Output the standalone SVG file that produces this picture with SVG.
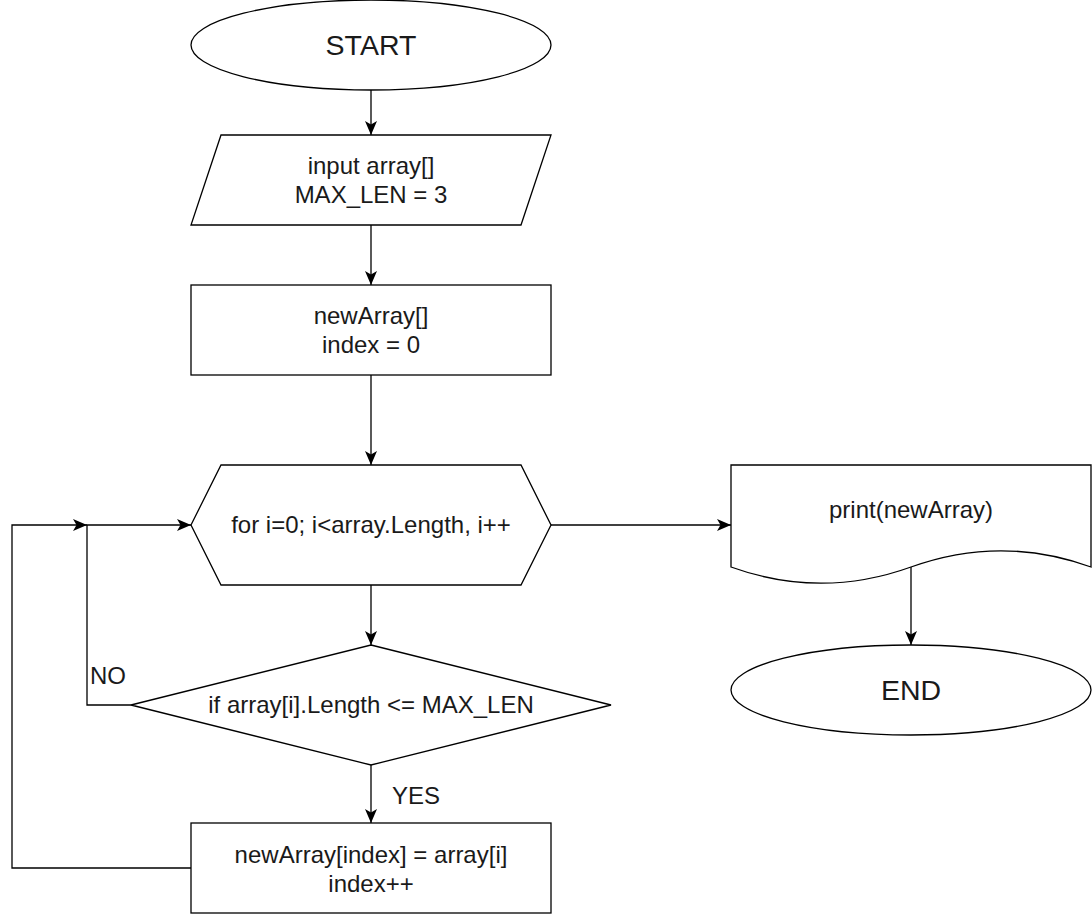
<svg xmlns="http://www.w3.org/2000/svg" width="1092" height="915" viewBox="0 0 1092 915">
<style>
.s{fill:#fff;stroke:#000;stroke-width:1.3}
.t{font-family:"Liberation Sans",Arial,sans-serif;font-size:24px;fill:#1a1a1a;text-anchor:middle}
.big{font-size:28.5px}
.l{fill:none;stroke:#000;stroke-width:1.3}
.lb{font-family:"Liberation Sans",Arial,sans-serif;font-size:24px;fill:#1a1a1a}
</style>
<defs>
<marker id="a" markerUnits="userSpaceOnUse" markerWidth="15" markerHeight="13" refX="14" refY="6" orient="auto">
<path d="M0,0 L14,6 L0,12 L3.5,6 Z" fill="#000"/>
</marker>
</defs>
<rect width="1092" height="915" fill="#fff"/>
<g id="connectors">
<path class="l" d="M371,90 L371,135" marker-end="url(#a)"/>
<path class="l" d="M371,225 L371,285" marker-end="url(#a)"/>
<path class="l" d="M371,375 L371,465" marker-end="url(#a)"/>
<path class="l" d="M371,585 L371,645" marker-end="url(#a)"/>
<path class="l" d="M371,765 L371,823" marker-end="url(#a)"/>
<path class="l" d="M131,705 L87,705 L87,525 L191,525" marker-end="url(#a)"/>
<path class="l" d="M191,868 L12,868 L12,525 L87,525" marker-end="url(#a)"/>
<path class="l" d="M551,525 L731,525" marker-end="url(#a)"/>
<path class="l" d="M911,567 L911,645" marker-end="url(#a)"/>
<text class="lb" x="90" y="684">NO</text>
<text class="lb" x="392" y="804">YES</text>
</g>
<g id="start">
<ellipse class="s" cx="371" cy="45" rx="180" ry="45"/>
<text class="t big" x="371" y="55">START</text>
</g>
<g id="input">
<path class="s" d="M221,135 L551,135 L521,225 L191,225 Z"/>
<text class="t" x="371" y="174">input array[]</text>
<text class="t" x="371" y="203">MAX_LEN = 3</text>
</g>
<g id="init">
<rect class="s" x="191" y="285" width="360" height="90"/>
<text class="t" x="371" y="324">newArray[]</text>
<text class="t" x="371" y="353">index = 0</text>
</g>
<g id="loop">
<path class="s" d="M191,525 L221,465 L521,465 L551,525 L521,585 L221,585 Z"/>
<text class="t" x="371" y="533">for i=0; i&lt;array.Length, i++</text>
</g>
<g id="cond">
<path class="s" d="M371,645 L611,705 L371,765 L131,705 Z"/>
<text class="t" x="371" y="713">if array[i].Length &lt;= MAX_LEN</text>
</g>
<g id="assign">
<rect class="s" x="191" y="823" width="360" height="90"/>
<text class="t" x="371" y="863">newArray[index] = array[i]</text>
<text class="t" x="371" y="892">index++</text>
</g>
<g id="print">
<path class="s" d="M731,465 L1091,465 L1091,567 Q1001,534.6 911,567 Q821,599.4 731,567 Z"/>
<text class="t" x="911" y="518">print(newArray)</text>
</g>
<g id="end">
<ellipse class="s" cx="911" cy="690" rx="180" ry="45"/>
<text class="t big" x="911" y="700">END</text>
</g>
</svg>
